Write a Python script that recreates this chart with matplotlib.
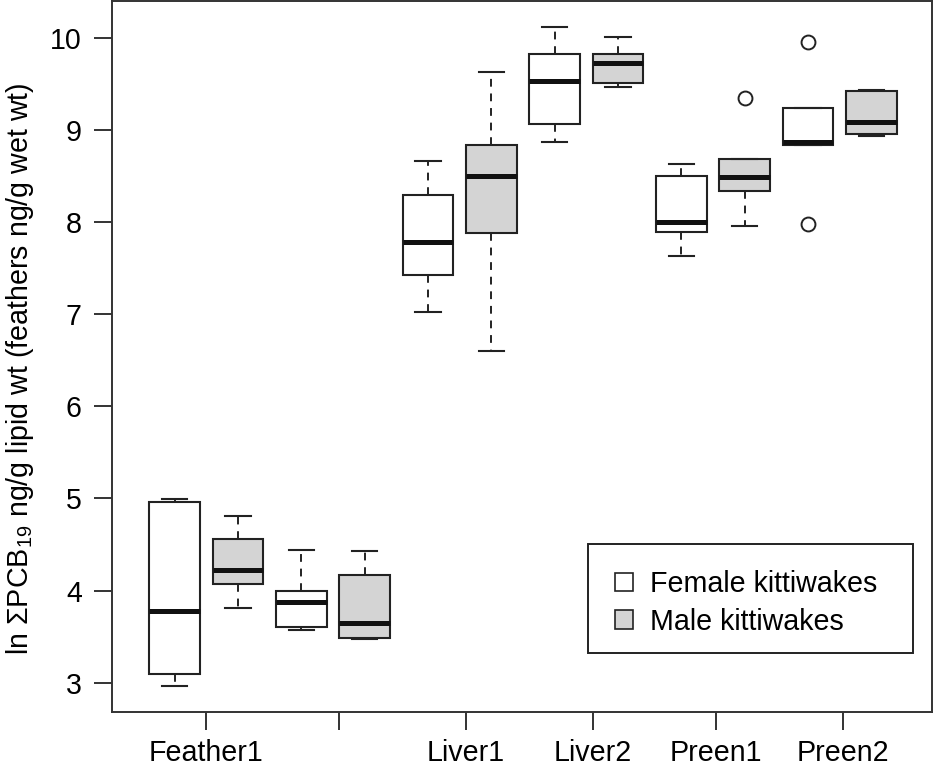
import matplotlib
matplotlib.use('Agg')
import matplotlib.pyplot as plt
from matplotlib.patches import Patch, Rectangle

plt.rcParams['font.family'] = ['Liberation Sans', 'DejaVu Sans']
plt.rcParams['mathtext.default'] = 'regular'

# ---- data ----
groups = ['Feather1', 'Feather1', 'Feather2', 'Feather2', 'Liver1', 'Liver1',
          'Liver2', 'Liver2', 'Preen1', 'Preen1', 'Preen2', 'Preen2']
sex = ['Female', 'Male'] * 6
whislo = [2.96, 3.81, 3.57, 3.47, 7.02, 6.60, 8.87, 9.47, 7.63, 7.96, 8.83, 8.93]
q1 = [3.09, 4.07, 3.60, 3.48, 7.42, 7.88, 9.06, 9.51, 7.89, 8.34, 8.83, 8.96]
med = [3.78, 4.22, 3.88, 3.65, 7.78, 8.50, 9.53, 9.73, 8.00, 8.49, 8.87, 9.09]
q3 = [4.96, 4.56, 3.99, 4.17, 8.29, 8.83, 9.82, 9.82, 8.50, 8.68, 9.24, 9.42]
whishi = [4.99, 4.81, 4.44, 4.43, 8.66, 9.63, 10.12, 10.01, 8.63, 8.68, 9.24, 9.43]
fliers = [[], [], [], [], [], [], [], [], [], [9.35], [9.95, 7.98], []]
tick_pos = [1.5, 3.6, 5.6, 7.6, 9.55, 11.55]
tick_labels = ['Feather1', '', 'Liver1', 'Liver2', 'Preen1', 'Preen2']
yticks = [3, 4, 5, 6, 7, 8, 9, 10]
legend_labels = ['Female kittiwakes', 'Male kittiwakes']

fill = {'Female': 'white', 'Male': '#d4d4d4'}
edge = '#222222'
FS = 20.6

fig = plt.figure(figsize=(9.36, 7.72), dpi=100)
ax = fig.add_axes([0.120, 0.0781, 0.876, 0.9206])

stats = []
for i in range(len(groups)):
    stats.append(dict(whislo=whislo[i], q1=q1[i], med=med[i], q3=q3[i],
                      whishi=whishi[i], fliers=fliers[i],
                      label=f'{sex[i]} {groups[i]}'))

bp = ax.bxp(stats, positions=list(range(1, len(groups) + 1)), widths=0.8,
            capwidths=0.4, patch_artist=True, showfliers=True,
            boxprops=dict(linewidth=1.5, edgecolor=edge),
            whiskerprops=dict(linestyle=(0, (4, 3.5)), linewidth=1.4, color=edge),
            capprops=dict(linewidth=1.5, color=edge),
            medianprops=dict(color='#111111', linewidth=3.6, solid_capstyle='butt'),
            flierprops=dict(marker='o', markerfacecolor='none', markeredgecolor=edge,
                            markersize=10, markeredgewidth=1.4, linestyle='none'))
for patch, s in zip(bp['boxes'], sex):
    patch.set_facecolor(fill[s])

ax.set_xlim(0.015, 12.96)
ax.set_ylim(2.685, 10.398)
ax.set_xticks(tick_pos)
ax.set_xticklabels(tick_labels)
ax.set_yticks(yticks)
ax.set_yticklabels([str(v) for v in yticks])
ax.tick_params(direction='out', length=13, width=1.4, labelsize=FS, color='#333333')
ax.tick_params(axis='x', pad=6.5)
ax.tick_params(axis='y', pad=9)
for sp in ax.spines.values():
    sp.set_linewidth(1.4)
    sp.set_color('#333333')

ax.set_ylabel('ln \u03a3PCB$_{19}$ ng/g lipid wt (feathers ng/g wet wt)', fontsize=FS, labelpad=10)
ax.yaxis.label.set_y(0.483)

# legend frame + entries
ax.add_patch(Rectangle((0.580, 0.0822), 0.397, 0.1533, transform=ax.transAxes,
                       facecolor='white', edgecolor=edge, linewidth=1.4, zorder=5))
handles = [Patch(facecolor=fill['Female'], edgecolor=edge, linewidth=1.2),
           Patch(facecolor=fill['Male'], edgecolor=edge, linewidth=1.2)]
leg = ax.legend(handles, legend_labels, loc='center left',
                bbox_to_anchor=(0.613, 0.153), frameon=False,
                fontsize=FS, handlelength=0.63, handleheight=0.63, handletextpad=0.6,
                labelspacing=0.34, borderpad=0, borderaxespad=0)
leg.set_zorder(6)

fig.savefig('out.png', dpi=100)
